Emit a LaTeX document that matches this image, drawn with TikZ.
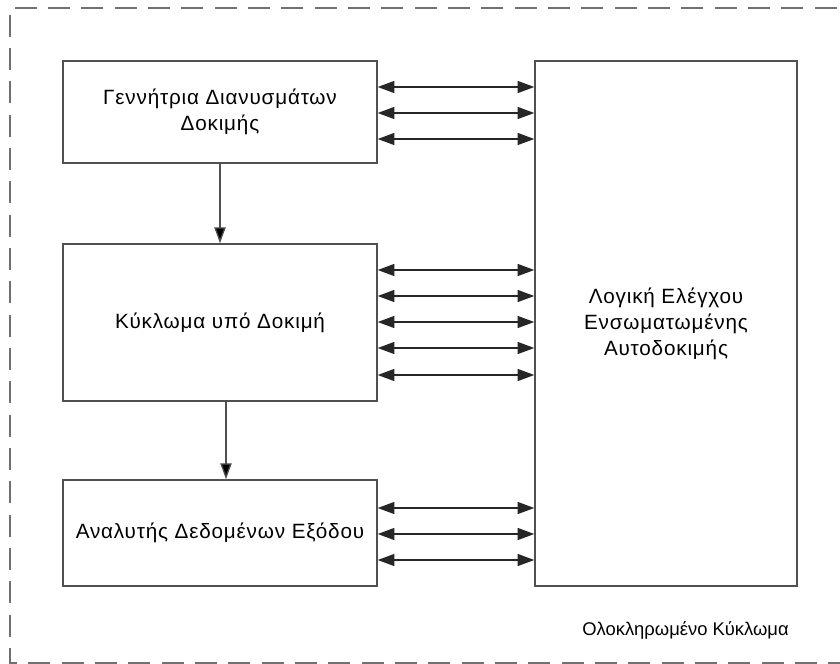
\documentclass[tikz,border=0pt]{standalone}
\usepackage{fontspec}
\setmainfont{Liberation Sans}
\newfontfamily\blockfont[LetterSpace=4]{Liberation Sans}
\usetikzlibrary{arrows.meta}
\definecolor{frame}{HTML}{707070}
\definecolor{edge}{HTML}{505050}
\tikzset{
  blk/.style={draw=edge, line width=1.1pt, rectangle, align=center, inner sep=0pt,
    font=\blockfont\fontsize{15.5}{19.5}\selectfont},
  biarrow/.style={draw=black!85, line width=1pt, {Triangle[length=12.5pt,width=9pt]}-{Triangle[length=12.5pt,width=9pt]}},
  onearrow/.style={draw=edge, line width=1pt, -{Triangle[length=12pt,width=8.5pt,fill=black]}},
  outline/.style={draw=frame, line width=1.5pt, dash pattern=on 16.5pt off 8.5pt}
}
\begin{document}
\begin{tikzpicture}[x=0.75pt, y=-0.75pt]
  \useasboundingbox (0,0) rectangle (840,664);
  \begin{scope}
    \clip (0,0) rectangle (840,664);
    % integrated circuit boundary (open to the right)
    \draw[outline] (870,8) -- (10,8) -- (10,663) -- (870,663);
  \end{scope}

  % functional blocks
  \node[blk, minimum width=235.5pt, minimum height=76.5pt] (gen) at (220,112) {Γεννήτρια Διανυσμάτων\\Δοκιμής};
  \node[blk, minimum width=235.5pt, minimum height=117.75pt] (cut) at (220,322.5) {Κύκλωμα υπό Δοκιμή};
  \node[blk, minimum width=235.5pt, minimum height=79.5pt] (ora) at (220,533) {Αναλυτής Δεδομένων Εξόδου};
  \node[blk, minimum width=196.5pt, minimum height=393.75pt] (bist) at (666,323.5) {Λογική Ελέγχου\\Ενσωματωμένης\\Αυτοδοκιμής};

  % label of the enclosing chip
  \node[font=\fontsize{13.8}{16}\selectfont, anchor=center] (chip) at (685.5,630) {Ολοκληρωμένο Κύκλωμα};

  % flow between blocks
  \draw[onearrow] (gen.south) -- (cut.north);
  \draw[onearrow] (cut.south -| 226,0) -- (ora.north -| 226,0);

  % control / status lines to the BIST controller
  \foreach \yy in {87,113,139} {
    \draw[biarrow] (gen.east |- 0,\yy) -- (bist.west |- 0,\yy);
  }
  \foreach \yy in {270,296,322,348,375} {
    \draw[biarrow] (cut.east |- 0,\yy) -- (bist.west |- 0,\yy);
  }
  \foreach \yy in {508,534,560} {
    \draw[biarrow] (ora.east |- 0,\yy) -- (bist.west |- 0,\yy);
  }
\end{tikzpicture}
\end{document}
